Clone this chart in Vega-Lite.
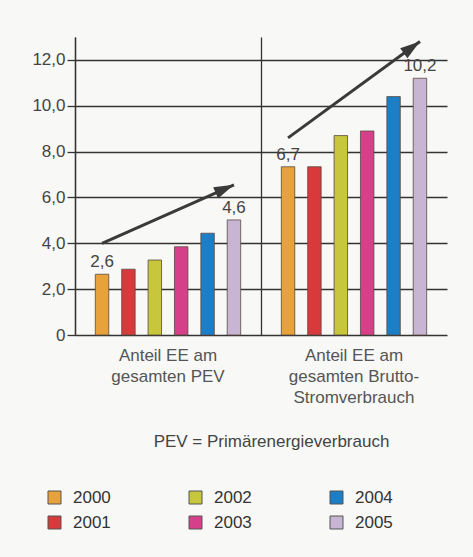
{
  "$schema": "https://vega.github.io/schema/vega-lite/v6.json",
  "width": 372,
  "height": 298,
  "autosize": {"type": "none"},
  "padding": {"left": 75, "top": 37, "right": 26, "bottom": 222},
  "background": "#f8f8f6",
  "config": {"view": {"stroke": null}, "font": "Liberation Sans"},
  "datasets": {
    "bars": [
      {"group": "Anteil EE am|gesamten PEV", "year": "2000", "value": 2.65, "label": "2,6"},
      {"group": "Anteil EE am|gesamten PEV", "year": "2001", "value": 2.87, "label": null},
      {"group": "Anteil EE am|gesamten PEV", "year": "2002", "value": 3.27, "label": null},
      {"group": "Anteil EE am|gesamten PEV", "year": "2003", "value": 3.85, "label": null},
      {"group": "Anteil EE am|gesamten PEV", "year": "2004", "value": 4.44, "label": null},
      {"group": "Anteil EE am|gesamten PEV", "year": "2005", "value": 5.02, "label": "4,6"},
      {"group": "Anteil EE am|gesamten Brutto-|Stromverbrauch", "year": "2000", "value": 7.34, "label": "6,7"},
      {"group": "Anteil EE am|gesamten Brutto-|Stromverbrauch", "year": "2001", "value": 7.34, "label": null},
      {"group": "Anteil EE am|gesamten Brutto-|Stromverbrauch", "year": "2002", "value": 8.7, "label": null},
      {"group": "Anteil EE am|gesamten Brutto-|Stromverbrauch", "year": "2003", "value": 8.9, "label": null},
      {"group": "Anteil EE am|gesamten Brutto-|Stromverbrauch", "year": "2004", "value": 10.4, "label": null},
      {"group": "Anteil EE am|gesamten Brutto-|Stromverbrauch", "year": "2005", "value": 11.2, "label": "10,2"}
    ],
    "arrows": [
      {"arrow": "a1", "group": "Anteil EE am|gesamten PEV", "year": "2000", "value": 4.0, "end": false},
      {"arrow": "a1", "group": "Anteil EE am|gesamten PEV", "year": "2005", "value": 6.55, "end": true},
      {"arrow": "a2", "group": "Anteil EE am|gesamten Brutto-|Stromverbrauch", "year": "2000", "value": 8.6, "end": false},
      {"arrow": "a2", "group": "Anteil EE am|gesamten Brutto-|Stromverbrauch", "year": "2005", "value": 12.8, "end": true}
    ]
  },
  "layer": [
    {
      "data": {"name": "bars"},
      "mark": {"type": "bar", "stroke": "#5a4a40", "strokeWidth": 0.8},
      "encoding": {
        "x": {
          "field": "group", "type": "nominal", "sort": null,
          "scale": {"paddingInner": 0, "paddingOuter": 0},
          "axis": {
            "title": "PEV = Primärenergieverbrauch",
            "labelExpr": "split(datum.label, '|')",
            "labelAngle": 0,
            "labelFontSize": 17,
            "labelColor": "#555",
            "labelPadding": 12,
            "labelBaseline": "top",
            "labelLineHeight": 21,
            "labelDx": 5,
            "domain": false,
            "ticks": false,
            "grid": true,
            "bandPosition": 0,
            "gridColor": "#333",
            "gridWidth": 1.3,
            "gridOpacity": 1,
            "titleFontSize": 17,
            "titleFontWeight": "normal",
            "titleColor": "#444",
            "titlePadding": 28,
            "titleX": 196,
            "titleAlign": "center"
          }
        },
        "xOffset": {"field": "year", "type": "nominal", "scale": {"paddingInner": 0.49, "paddingOuter": 0.77}},
        "y": {
          "field": "value", "type": "quantitative",
          "scale": {"domain": [0, 13], "nice": false},
          "axis": {
            "values": [0, 2, 4, 6, 8, 10, 12],
            "labelExpr": "datum.value == 0 ? '0' : replace(format(datum.value, '.1f'), '.', ',')",
            "title": null,
            "grid": true,
            "gridColor": "#333",
            "gridWidth": 1.3,
            "gridOpacity": 1,
            "tickColor": "#333",
            "tickSize": 8,
            "tickWidth": 1.3,
            "domainColor": "#333",
            "domainWidth": 1.3,
            "labelFontSize": 17,
            "labelColor": "#444",
            "labelPadding": 2
          }
        },
        "color": {
          "field": "year", "type": "nominal",
          "scale": {
            "domain": ["2000", "2001", "2002", "2003", "2004", "2005"],
            "range": ["#e7a23b", "#d8393b", "#c7c63c", "#d6408a", "#1c7ec6", "#c8b5d3"]
          },
          "legend": {
            "orient": "none",
            "legendX": -29,
            "legendY": 452,
            "columns": 3,
            "title": null,
            "padding": 0,
            "symbolType": "square",
            "symbolSize": 169,
            "symbolStrokeColor": "#555",
            "symbolStrokeWidth": 1,
            "symbolOpacity": 1,
            "labelFontSize": 17,
            "labelColor": "#333",
            "labelOffset": 10,
            "columnPadding": 76,
            "rowPadding": 7
          }
        }
      }
    },
    {
      "data": {"name": "bars"},
      "transform": [{"filter": "datum.label != null"}],
      "mark": {"type": "text", "dy": -12, "fontSize": 17, "color": "#444", "baseline": "middle"},
      "encoding": {
        "x": {"field": "group", "type": "nominal", "sort": null},
        "xOffset": {"field": "year", "type": "nominal"},
        "y": {"field": "value", "type": "quantitative"},
        "text": {"field": "label"}
      }
    },
    {
      "data": {"name": "arrows"},
      "mark": {"type": "line", "color": "#3a3a3a", "strokeWidth": 3, "strokeCap": "butt"},
      "encoding": {
        "x": {"field": "group", "type": "nominal", "sort": null},
        "xOffset": {"field": "year", "type": "nominal"},
        "y": {"field": "value", "type": "quantitative"},
        "detail": {"field": "arrow"},
        "order": {"field": "value"}
      }
    },
    {
      "data": {"name": "arrows"},
      "transform": [{"filter": "datum.arrow == 'a1' && datum.end"}],
      "mark": {"type": "point", "shape": "M0,0L0.62,2L-0.62,2Z", "filled": true, "size": 400, "color": "#3a3a3a", "opacity": 1, "angle": 66.4},
      "encoding": {
        "x": {"field": "group", "type": "nominal", "sort": null},
        "xOffset": {"field": "year", "type": "nominal"},
        "y": {"field": "value", "type": "quantitative"}
      }
    },
    {
      "data": {"name": "arrows"},
      "transform": [{"filter": "datum.arrow == 'a2' && datum.end"}],
      "mark": {"type": "point", "shape": "M0,0L0.62,2L-0.62,2Z", "filled": true, "size": 400, "color": "#3a3a3a", "opacity": 1, "angle": 54},
      "encoding": {
        "x": {"field": "group", "type": "nominal", "sort": null},
        "xOffset": {"field": "year", "type": "nominal"},
        "y": {"field": "value", "type": "quantitative"}
      }
    }
  ]
}
